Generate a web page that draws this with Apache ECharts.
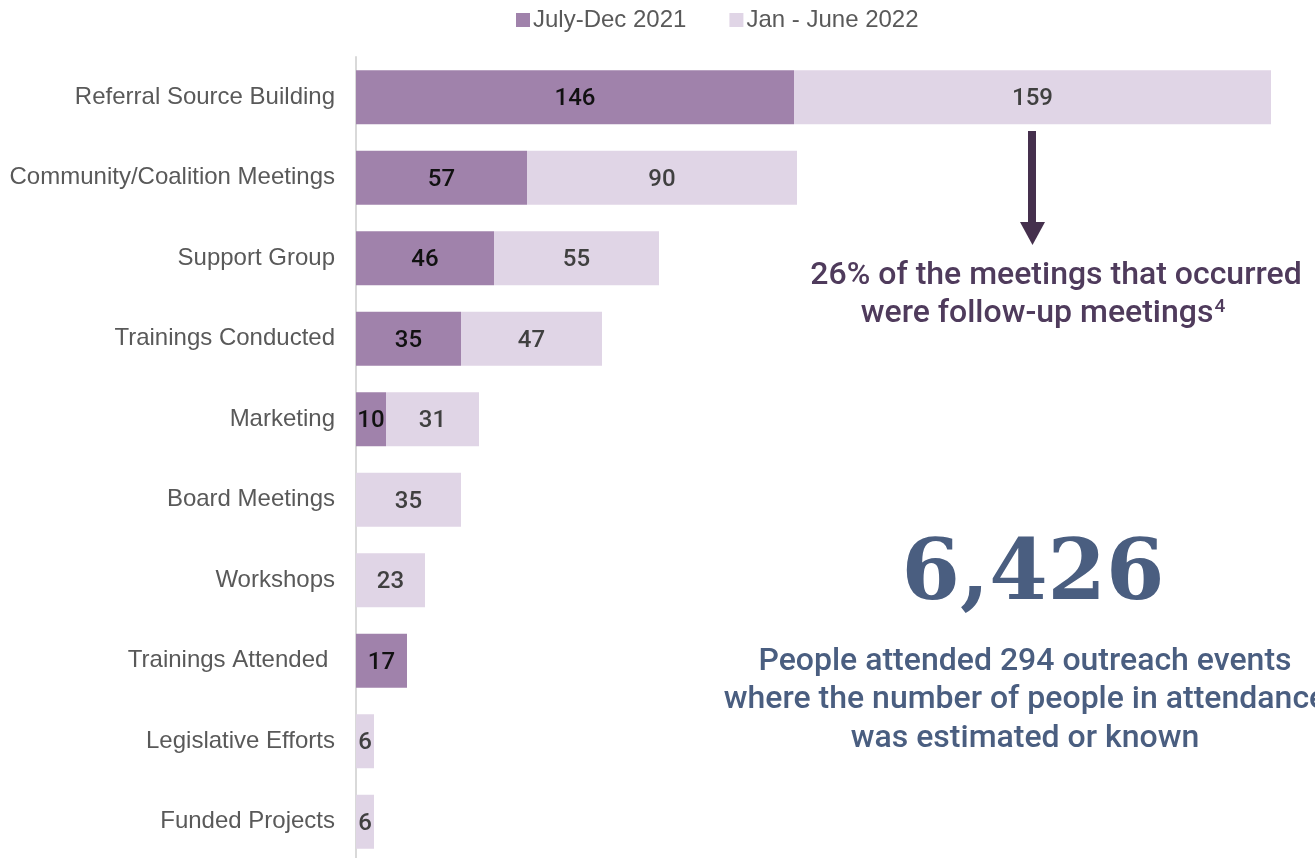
<!DOCTYPE html>
<html>
<head>
<meta charset="utf-8">
<title>Outreach activities</title>
<script src="https://cdn.jsdelivr.net/npm/echarts@6/dist/echarts.min.js"></script>
<style>
  html, body { margin: 0; padding: 0; background: #ffffff; overflow: hidden; }
  #chart { width: 1315px; height: 866px; }
</style>
</head>
<body>
<div id="chart"></div>
<script>
// Activity categories, listed top to bottom
const categories = [
  'Referral Source Building',
  'Community/Coalition Meetings',
  'Support Group',
  'Trainings Conducted',
  'Marketing',
  'Board Meetings',
  'Workshops',
  'Trainings Attended ',
  'Legislative Efforts',
  'Funded Projects'
];

// Counts per reporting period (null = none reported)
const julyDec2021 = [146, 57, 46, 35, 10, null, null, 17, null, null];
const janJune2022 = [159, 90, 55, 47, 31, 35, 23, null, 6, 6];

const seriesNames = ['July-Dec 2021', 'Jan - June 2022'];

const followUpNote = ['26% of the meetings that occurred', 'were follow-up meetings'];
const attendanceTotal = '6,426';
const attendanceNote = [
  'People attended 294 outreach events',
  'where the number of people in attendance',
  'was estimated or known'
];

const DARK = '#A082AB';
const LIGHT = '#E0D5E6';
const SLATE = '#4A5E80';
const PLUM = '#4F3B5C';

const chart = echarts.init(document.getElementById('chart'));

const barLabel = (color) => ({
  show: true,
  position: 'inside',
  offset: [0, 2],
  fontFamily: 'Roboto',
  fontWeight: 500,
  fontSize: 24,
  color: color,
  formatter: (p) => (p.value == null ? '' : String(p.value))
});

chart.setOption({
  animation: false,
  backgroundColor: '#ffffff',
  legend: {
    left: 511,
    top: 3,
    icon: 'rect',
    itemWidth: 14,
    itemHeight: 14,
    itemGap: 43,
    textStyle: { fontFamily: 'Liberation Sans', fontSize: 24, color: '#595959', padding: [0, 0, 0, -2] },
    data: seriesNames
  },
  grid: { left: 356, top: 57, width: 957, bottom: 4, outerBoundsMode: 'none' },
  xAxis: {
    type: 'value',
    min: 0,
    max: 319,
    show: false
  },
  yAxis: {
    type: 'category',
    inverse: true,
    data: categories,
    axisLine: { show: true, lineStyle: { color: '#D9D9D9', width: 2 } },
    axisTick: { show: false },
    axisLabel: {
      fontFamily: 'Liberation Sans',
      fontSize: 24,
      color: '#595959',
      margin: 21,
      padding: [4, 0, 0, 0]
    }
  },
  series: [
    {
      name: seriesNames[0],
      type: 'bar',
      stack: 'total',
      barCategoryGap: '33%',
      itemStyle: { color: DARK },
      label: barLabel('#111111'),
      data: julyDec2021
    },
    {
      name: seriesNames[1],
      type: 'bar',
      stack: 'total',
      barCategoryGap: '33%',
      itemStyle: { color: LIGHT },
      label: barLabel('#404040'),
      data: janJune2022
    }
  ],
  graphic: [
    // arrow pointing from the top bar to the follow-up note
    { type: 'rect', shape: { x: 1028, y: 131, width: 8, height: 92 }, style: { fill: '#45304D' } },
    { type: 'polygon', shape: { points: [[1020, 222], [1045, 222], [1032.5, 245]] }, style: { fill: '#45304D' } },
    {
      type: 'text', x: 1056, y: 276,
      style: {
        text: followUpNote[0], x: 0, y: 0, align: 'center', verticalAlign: 'middle',
        font: '500 32px Roboto', fill: PLUM
      }
    },
    {
      type: 'text', x: 1043, y: 314,
      style: {
        text: '{m|' + followUpNote[1] + '}{s|4}', x: 0, y: 0, align: 'center', verticalAlign: 'middle',
        fill: PLUM,
        rich: {
          m: { fontFamily: 'Roboto', fontWeight: 500, fontSize: 32, fill: PLUM },
          s: { fontFamily: 'Roboto', fontWeight: 500, fontSize: 19, fill: PLUM, verticalAlign: 'top', padding: [0, 0, 14, 1] }
        }
      }
    },
    {
      type: 'text', x: 1033, y: 577,
      style: {
        text: attendanceTotal, x: 0, y: 0, align: 'center', verticalAlign: 'middle',
        font: 'bold 84px "DejaVu Serif"', fill: SLATE
      }
    },
    {
      type: 'text', x: 1025, y: 662,
      style: { text: attendanceNote[0], x: 0, y: 0, align: 'center', verticalAlign: 'middle', font: '500 32px Roboto', fill: SLATE }
    },
    {
      type: 'text', x: 1025, y: 700,
      style: { text: attendanceNote[1], x: 0, y: 0, align: 'center', verticalAlign: 'middle', font: '500 32px Roboto', fill: SLATE }
    },
    {
      type: 'text', x: 1025, y: 739,
      style: { text: attendanceNote[2], x: 0, y: 0, align: 'center', verticalAlign: 'middle', font: '500 32px Roboto', fill: SLATE }
    }
  ]
});
</script>
</body>
</html>
